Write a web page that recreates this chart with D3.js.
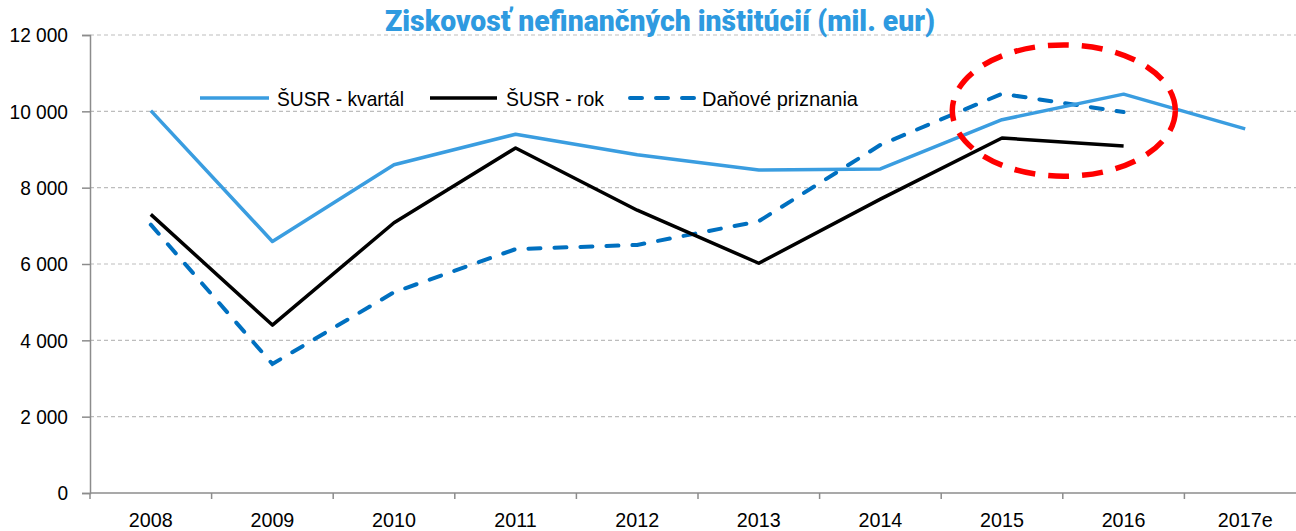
<!DOCTYPE html>
<html>
<head>
<meta charset="utf-8">
<script src="https://cdn.jsdelivr.net/npm/d3@7"></script>
<style>
  html, body { margin: 0; padding: 0; background: #fff; }
  svg { display: block; }
  text { font-family: "Liberation Sans", Arial, sans-serif; }
</style>
</head>
<body>
<svg id="chart" width="1296" height="531"></svg>
<script>
const categories = ["2008","2009","2010","2011","2012","2013","2014","2015","2016","2017e"];
const kvartal = [10020, 6590, 8600, 9400, 8860, 8460, 8490, 9780, 10450, 9540];
const rok = [7300, 4400, 7080, 9040, 7410, 6020, 7700, 9300, 9090, null];
const danove = [7030, 3380, 5260, 6390, 6500, 7120, 9120, 10460, 9980, null];
const yTicks = [0, 2000, 4000, 6000, 8000, 10000, 12000];
const seriesNames = ["ŠUSR - kvartál", "ŠUSR - rok", "Daňové priznania"];
const title = "Ziskovosť nefinančných inštitúcií (mil. eur)";

(function () {
const svg = d3.select("#chart");
const mLeft = 90, mRight = 1306, mTop = 35, mBottom = 493;

const x = d3.scaleBand().domain(categories).range([mLeft, mRight]);
const y = d3.scaleLinear().domain([0, 12000]).range([mBottom, mTop]);
const fmt = v => d3.format(",")(v).replace(/,/g, " ");

function condense(sel, factor) {
  sel.each(function () {
    const w = this.getComputedTextLength();
    d3.select(this).attr("textLength", (w * factor).toFixed(1)).attr("lengthAdjust", "spacingAndGlyphs");
  });
}

// gridlines
svg.append("g").selectAll("line").data(yTicks.filter(d => d > 0)).join("line")
  .attr("x1", mLeft).attr("x2", mRight)
  .attr("y1", d => y(d)).attr("y2", d => y(d))
  .attr("stroke", "#bdbdbd").attr("stroke-width", 1.2).attr("stroke-dasharray", "4,3");

// y axis
const yAxis = svg.append("g").attr("transform", `translate(${mLeft},0)`)
  .call(d3.axisLeft(y).tickValues(yTicks).tickFormat(fmt).tickSize(8).tickPadding(14));
yAxis.select(".domain").attr("stroke", "#8c8c8c").attr("stroke-width", 1.5);
yAxis.selectAll(".tick line").attr("stroke", "#8c8c8c").attr("stroke-width", 1.5);
yAxis.selectAll("text").attr("font-size", 21).attr("fill", "#000")
  .style("font-family", '"Liberation Sans", Arial, sans-serif');
condense(yAxis.selectAll("text"), 0.91);

// x axis
const xAxisG = svg.append("g").attr("transform", `translate(0,${mBottom})`);
xAxisG.append("line").attr("x1", mLeft).attr("x2", mRight).attr("y1", 0).attr("y2", 0)
  .attr("stroke", "#8c8c8c").attr("stroke-width", 1.5);
const boundaries = categories.map(c => x(c)).concat([x(categories[categories.length-1]) + x.bandwidth()]);
xAxisG.selectAll("line.tk").data(boundaries).join("line").attr("class", "tk")
  .attr("x1", d => d).attr("x2", d => d).attr("y1", 0).attr("y2", 6)
  .attr("stroke", "#8c8c8c").attr("stroke-width", 1.5);
const xLabels = xAxisG.selectAll("text").data(categories).join("text")
  .attr("x", d => x(d) + x.bandwidth() / 2).attr("y", 34)
  .attr("text-anchor", "middle").attr("font-size", 21).attr("fill", "#000")
  .text(d => d);
condense(xLabels, 0.94);

const cx = d => x(d) + x.bandwidth() / 2;
const line = d3.line().defined(d => d.v != null).x(d => cx(d.c)).y(d => y(d.v));
const toPts = arr => categories.map((c, i) => ({c, v: arr[i]}));

svg.append("path").datum(toPts(danove)).attr("d", line)
  .attr("fill", "none").attr("stroke", "#0070c0").attr("stroke-width", 4)
  .attr("stroke-dasharray", "12,14").attr("stroke-linecap", "round");
svg.append("path").datum(toPts(rok)).attr("d", line)
  .attr("fill", "none").attr("stroke", "#000").attr("stroke-width", 3.5)
  .attr("stroke-linejoin", "round");
svg.append("path").datum(toPts(kvartal)).attr("d", line)
  .attr("fill", "none").attr("stroke", "#3a9de0").attr("stroke-width", 3.5)
  .attr("stroke-linejoin", "round");

// red dashed ellipse annotation around 2015-2016
const ecx = (cx("2015") + cx("2016")) / 2;
svg.append("ellipse")
  .attr("cx", ecx + 1).attr("cy", y(10020))
  .attr("rx", x.bandwidth() * 0.917).attr("ry", y(8300) - y(10020))
  .attr("fill", "none").attr("stroke", "#ff0000").attr("stroke-width", 5.5)
  .attr("stroke-dasharray", "21,13");

// legend
const legend = svg.append("g");
const legItems = [
  {name: seriesNames[0], color: "#3a9de0", dash: null, x0: 200, w: 69, sw: 3.5, tw: 127, tx: 277},
  {name: seriesNames[1], color: "#000", dash: null, x0: 430, w: 67, sw: 3.5, tw: 98, tx: 506},
  {name: seriesNames[2], color: "#0070c0", dash: "12,14", x0: 630, w: 65, sw: 4, tw: 156, tx: 702}
];
const ly = 98;
legItems.forEach(it => {
  legend.append("line").attr("x1", it.x0).attr("x2", it.x0 + it.w).attr("y1", ly).attr("y2", ly)
    .attr("stroke", it.color).attr("stroke-width", it.sw)
    .attr("stroke-dasharray", it.dash).attr("stroke-linecap", it.dash ? "round" : "butt");
  legend.append("text").attr("x", it.tx).attr("y", 106)
    .attr("font-size", 21).attr("fill", "#000")
    .attr("textLength", it.tw).attr("lengthAdjust", "spacingAndGlyphs")
    .text(it.name);
});

// title
svg.append("text").attr("x", 385).attr("y", 31)
  .attr("font-size", 29).attr("font-weight", 900).attr("fill", "#2e9ae0")
  .style("font-family", 'Roboto, "Liberation Sans", Arial, sans-serif')
  .attr("textLength", 550).attr("lengthAdjust", "spacingAndGlyphs")
  .text(title);
})();
</script>
</body>
</html>
